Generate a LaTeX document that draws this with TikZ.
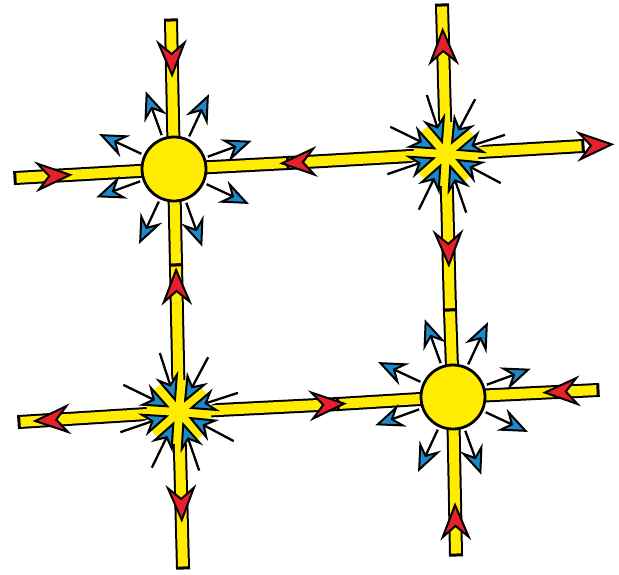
\documentclass[tikz,border=0pt]{standalone}
\usepackage{tikz}
\usetikzlibrary{calc, decorations.markings, backgrounds}

\definecolor{baryellow}{RGB}{255,236,0}
\definecolor{tipred}{RGB}{232,32,44}
\definecolor{tipblue}{RGB}{28,138,200}

\begin{document}
\begin{tikzpicture}[
    x=1pt, y=-1pt,
    source/.style={circle, draw=black, line width=2.8pt, fill=baryellow,
                   minimum size=64pt, inner sep=0pt},
    sink/.style={circle, fill=baryellow, minimum size=66pt, inner sep=0pt},
    barline/.style={line width=14pt, draw=black, shorten >=-1.5pt},
    barfill/.style={line width=10pt, draw=baryellow, shorten >=1.5pt},
    flowline/.style={line width=2.3pt, draw=black},
    halo/.style={line width=6pt, draw=white},
    redhead/.pic={\filldraw[fill=tipred, draw=black, line width=2pt, line join=miter]
                  (0,0) -- (-32,13) -- (-21,0) -- (-32,-13) -- cycle;},
    bluehead/.pic={\filldraw[fill=tipblue, draw=black, line width=2pt, line join=miter]
                   (0,0) -- (-23,9.5) -- (-15,0) -- (-23,-9.5) -- cycle;}
]
\useasboundingbox (0,0) rectangle (619,574);

% sources and bar ends
\node[source] (tl) at (174,169) {};
\node[source] (br) at (453,397) {};
\coordinate (tlW) at (15,178);
\coordinate (tlN) at (171,20);
\coordinate (trN) at (442,5);
\coordinate (trE) at (583,146);
\coordinate (blW) at (19,422);
\coordinate (blS) at (183,568);
\coordinate (brE) at (598,390);
\coordinate (brS) at (456,555);
\coordinate (mA) at (288,163);
\coordinate (mB) at (176,265);
\coordinate (mC) at (450,310);
\coordinate (mD) at (338,404);

% bars
\begin{scope}[on background layer]
  \node[sink] (tr) at (446,154) {};
  \node[sink] (bl) at (179,412) {};
  \foreach \c/\e/\s in {tl/tlW/0, tl/tlN/0, tl/mA/0, tl/mB/0,
                        tr/trN/32, tr/trE/32, tr/mA/32, tr/mC/32,
                        bl/blW/32, bl/blS/32, bl/mB/32, bl/mD/32,
                        br/brE/0, br/brS/0, br/mC/0, br/mD/0}
    {\draw[barline, shorten <=\s pt] (\c.center) -- (\e);
     \draw[barfill] (\c.center) -- (\e);}
\end{scope}

% red arrows on the bars
\foreach \c/\e/\d/\r in {tl/tlW/104/180, tl/tlN/94/180, tl/mA/108/180,
                         tr/trN/124/0, tr/mC/111/0,
                         bl/mB/142/0, bl/blW/144/0, bl/blS/108/0,
                         br/mD/109/180, br/brE/92/180, br/brS/108/180}
  \path[postaction={decorate, decoration={markings,
        mark=at position \d pt with {\pic[transform shape, rotate=\r]{redhead};}}}] (\c.center) -- (\e);
\path[postaction={decorate, decoration={markings,
      mark=at position 0.999 with {\pic[transform shape, xshift=29pt]{redhead};}}}] (tr.center) -- (trE);

% outward arrows
\foreach \c in {tl, br}
  \foreach \a in {20,65,110,155,200,245,290,335} {
    \draw[flowline] ($(\c)+(\a:36pt)$) -- ($(\c)+(\a:70pt)$);
    \pic[rotate=\a] at ($(\c)+(\a:80pt)$) {bluehead};
  }

% inward arrows
\foreach \c in {tr, bl} {
  \foreach \a in {18,62,108,154,199,244,289,332}
    \draw[halo] ($(\c)+(\a:44pt)$) -- ($(\c)+(\a:26pt)$);
  \foreach \a in {18,62,108,154,199,244,289,332} {
    \draw[flowline] ($(\c)+(\a:62pt)$) -- ($(\c)+(\a:24pt)$);
    \pic[rotate=\a+180] at ($(\c)+(\a:13pt)$) {bluehead};
  }
}
\end{tikzpicture}
\end{document}
